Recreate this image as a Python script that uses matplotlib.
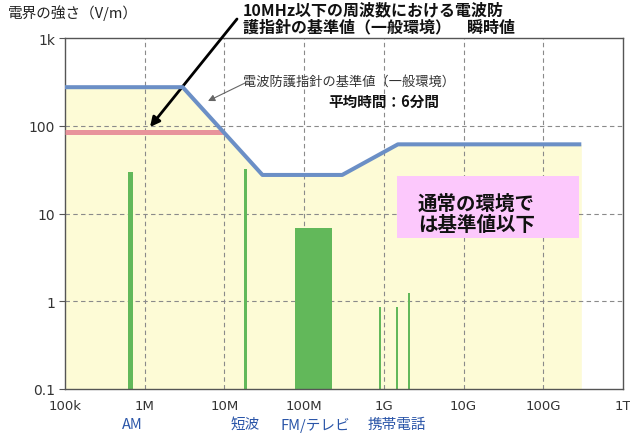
import numpy as np
import matplotlib
matplotlib.use('Agg')
import matplotlib.pyplot as plt
import matplotlib.transforms as mtransforms
from matplotlib.patches import Rectangle

plt.rcParams['font.family'] = ['Noto Sans CJK JP', 'DejaVu Sans']

# guideline (general environment), V/m vs Hz
guide_f = [1e5, 3e6, 3e7, 3e8, 1.5e9, 3e11]
guide_e = [275, 275, 27.5, 27.5, 61.4, 61.4]
# instantaneous value below 10 MHz
inst_f = [1e5, 1e7]
inst_e = [85, 85]

# measured levels in normal environment
bar_lo = [610e3, 17.8e6, 76e6, 870e6, 1.41e9, 2.0e9]
bar_hi = [710e3, 19.0e6, 222e6, 910e6, 1.50e9, 2.1e9]
bar_top = [30, 32, 6.8, 0.85, 0.85, 1.23]

xticks = [1e5, 1e6, 1e7, 1e8, 1e9, 1e10, 1e11, 1e12]
xticklabels = ['100k', '1M', '10M', '100M', '1G', '10G', '100G', '1T']
yticks = [0.1, 1, 10, 100, 1000]
yticklabels = ['0.1', '1', '10', '100', '1k']

band_names = ['AM', '短波', 'FM/テレビ', '携帯電話']
band_pos = [7.0e5, 1.8e7, 1.4e8, 1.45e9]

W, H = 630, 435
fig = plt.figure(figsize=(6.3, 4.35), dpi=100)
ax = fig.add_axes([65/W, 1-390/H, (623-65)/W, (390-39)/H])
ax.set_xscale('log')
ax.set_yscale('log')
ax.set_xlim(1e5, 1e12)
ax.set_ylim(0.1, 1000)

ax.fill_between(guide_f, 0.1, guide_e, color='#fdfbd6', lw=0, zorder=0)

for x in xticks[1:-1]:
    ax.axvline(x, color='#8a8a8a', lw=0.8, ls=(0, (4, 3)), zorder=1)
for y in [1, 10, 100]:
    ax.axhline(y, color='#8a8a8a', lw=0.8, ls=(0, (4, 3)), zorder=1)

bottoms = [0.1]*len(bar_top)
heights = [t-0.1 for t in bar_top]
widths = [h-l for l, h in zip(bar_lo, bar_hi)]
ax.bar(bar_lo, heights, width=widths, bottom=bottoms, align='edge',
       color='#62b85a', lw=0, zorder=2)

ax.plot(inst_f, inst_e, color='#e8939b', lw=3.6, solid_capstyle='butt', zorder=3)
ax.plot(guide_f, guide_e, color='#6b8fc6', lw=2.9, solid_capstyle='butt', zorder=4)

ax.set_xticks(xticks)
ax.set_xticklabels(xticklabels, fontsize=9.5, color='#333333', family='DejaVu Sans')
ax.set_yticks(yticks)
ax.set_yticklabels(yticklabels, fontsize=10, color='#333333', family='DejaVu Sans')
ax.minorticks_off()
ax.tick_params(axis='x', length=0, pad=7)
ax.tick_params(axis='y', length=4, color='#555555', pad=3)
for s in ax.spines.values():
    s.set_color('#555555')
    s.set_linewidth(1.0)

trans = mtransforms.blended_transform_factory(ax.transData, ax.transAxes)
for name, x in zip(band_names, band_pos):
    ax.text(x, -0.1, name, transform=trans, ha='center', va='center',
            fontsize=10.5, color='#2a55a8')

# pink box
ax.add_patch(Rectangle((397/W, 1-239/H), (579-397)/W, (239-177)/H,
                       transform=fig.transFigure, color='#fcc8fc', lw=0,
                       clip_on=False, zorder=5))
fig.text(418/W, 1-215/H, '通常の環境で\nは基準値以下', ha='left', va='center',
         fontsize=14, weight='bold', color='#111111', linespacing=1.15, zorder=6)

fig.text(8/W, 1-13/H, '電界の強さ（V/m）', ha='left', va='center', fontsize=10.5, color='#222222')

fig.text(243/W, 1-19/H, '10MHz以下の周波数における電波防\n護指針の基準値（一般環境）　瞬時値',
         ha='left', va='center', fontsize=11.5, weight='bold', color='#111111', linespacing=1.05)
ax.annotate('', xy=(150, H-128), xytext=(237, H-20), xycoords='figure pixels',
            textcoords='figure pixels',
            arrowprops=dict(arrowstyle='-|>', color='k', lw=2.0, mutation_scale=14,
                            shrinkA=0, shrinkB=0))

fig.text(243/W, 1-82/H, '電波防護指針の基準値（一般環境）', ha='left', va='center',
         fontsize=9.5, color='#333333')
ax.annotate('', xy=(208, H-102), xytext=(245, H-84), xycoords='figure pixels',
            textcoords='figure pixels',
            arrowprops=dict(arrowstyle='-|>', color='#666666', lw=0.8, mutation_scale=10,
                            shrinkA=0, shrinkB=0))
fig.text(328/W, 1-102/H, '平均時間：6分間', ha='left', va='center',
         fontsize=10.5, weight='bold', color='#111111')

fig.savefig('out.png', dpi=100)
